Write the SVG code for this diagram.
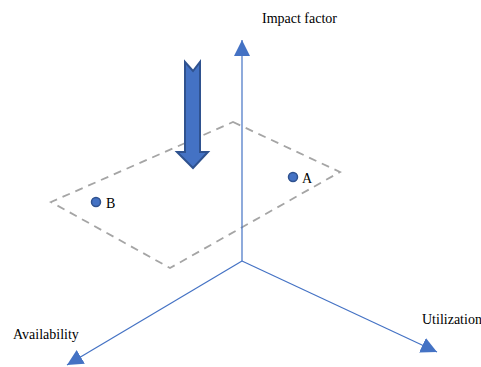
<svg xmlns="http://www.w3.org/2000/svg" width="481" height="367" viewBox="0 0 481 367">
<style>
.lbl{font-family:"Liberation Serif","Times New Roman",serif;font-size:14px;fill:#000}
.axis{stroke:#4472C4;stroke-width:1.2;fill:none}
.plane{stroke:#A5A5A5;stroke-width:1.8;fill:none;stroke-dasharray:8 6}
.pt{fill:#4472C4;stroke:#2F528F;stroke-width:1.5}
</style>
<defs>
<marker id="ah" markerUnits="userSpaceOnUse" markerWidth="17" markerHeight="17" refX="16" refY="8" orient="auto" viewBox="0 0 17 17">
<path d="M0,0 L16,8 L0,16 z" fill="#4472C4"/>
</marker>
</defs>
<rect width="481" height="367" fill="#fff"/>
<g id="plane">
<path class="plane" d="M233,122 L340,172 L170,268 L51,202 Z"/>
</g>
<g id="connectors">
<line class="axis" x1="242" y1="261" x2="242" y2="40" marker-end="url(#ah)"/>
<line class="axis" x1="242" y1="261" x2="437" y2="352" marker-end="url(#ah)"/>
<line class="axis" x1="242" y1="261" x2="67" y2="365" marker-end="url(#ah)"/>
</g>
<g id="down-arrow">
<path d="M185,62 L193,71 L200,62 L200,152 L208,152 L193,168 L177,152 L185,152 Z" fill="#4472C4" stroke="#2F528F" stroke-width="2" stroke-linejoin="miter"/>
</g>
<g id="point-A">
<circle class="pt" cx="293" cy="177" r="4.5"/>
<text class="lbl" x="302" y="183">A</text>
</g>
<g id="point-B">
<circle class="pt" cx="96" cy="202" r="4.5"/>
<text class="lbl" x="106" y="208">B</text>
</g>
<g id="label-impact">
<text class="lbl" x="262" y="23">Impact factor</text>
</g>
<g id="label-utilization">
<text class="lbl" x="422" y="324">Utilization</text>
</g>
<g id="label-availability">
<text class="lbl" x="13" y="339">Availability</text>
</g>
</svg>
